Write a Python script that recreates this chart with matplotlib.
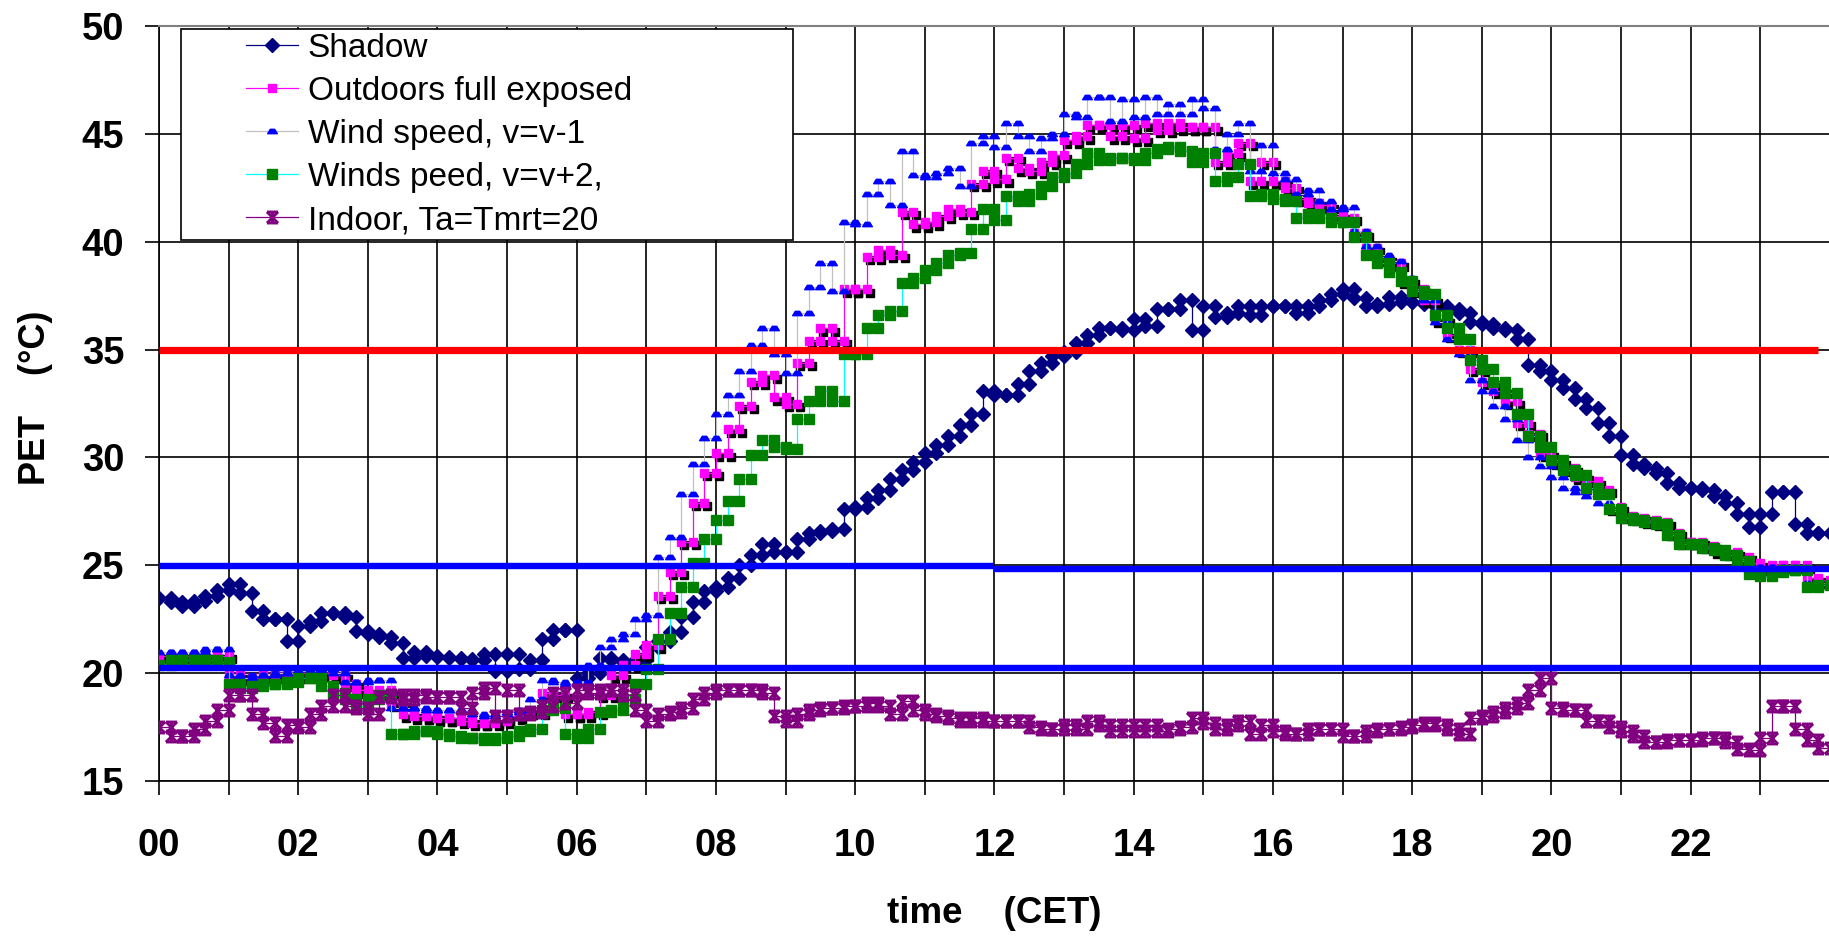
import numpy as np
import matplotlib
matplotlib.use("Agg")
import matplotlib.pyplot as plt
from matplotlib.path import Path
from matplotlib.lines import Line2D
from matplotlib.legend_handler import HandlerLine2D
from matplotlib.transforms import offset_copy
from matplotlib.ticker import MultipleLocator

plt.rcParams['font.family'] = ['Liberation Sans', 'DejaVu Sans']

# 10-minute values, one row per hour (00 .. 23)
shadow = [
    23.5, 23.3, 23.1, 23.35, 23.6, 23.85,
    24.15, 23.7, 22.9, 22.5, 22.5, 21.5,
    22.2, 22.4, 22.8, 22.8, 22.6, 21.95,
    21.8, 21.7, 21.4, 20.7, 21.0, 20.8,
    20.75, 20.7, 20.65, 20.6, 20.9, 20.1,
    20.9, 20.2, 20.6, 21.6, 22.0, 22.0,
    19.8, 20.0, 20.7, 20.6, 20.5, 20.6,
    21.2, 21.5, 21.9, 22.6, 23.3, 23.8,
    24.0, 24.4, 25.0, 25.5, 26.0, 25.6,
    25.6, 26.2, 26.5, 26.6, 26.7, 27.6,
    27.7, 28.1, 28.5, 29.0, 29.4, 29.8,
    30.2, 30.6, 31.0, 31.5, 32.0, 33.1,
    32.9, 32.9, 33.4, 34.0, 34.4, 34.7,
    34.9, 35.3, 35.7, 36.0, 36.0, 35.9,
    36.4, 36.1, 36.9, 36.9, 37.3, 35.9,
    37.0, 36.5, 36.7, 37.0, 36.6, 37.0,
    37.0, 37.0, 36.7, 37.0, 37.3, 37.6,
    37.8, 37.4, 37.0, 37.1, 37.45, 37.2,
    37.2, 37.1, 37.0, 36.9, 36.7, 36.3,
    36.2, 36.0, 35.9, 35.5, 34.3, 34.0,
    33.6, 33.2, 32.7, 32.3, 31.6, 31.0,
    30.1, 29.7, 29.5, 29.3, 28.8, 28.6,
    28.6, 28.5, 28.2, 27.9, 27.4, 26.8,
    27.4, 28.4, 28.4, 26.9, 26.5, 26.5,
]

outdoors = [
    20.8, 20.8, 20.8, 20.8, 20.8, 20.8,
    19.9, 19.8, 19.8, 19.9, 20.0, 19.9,
    20.0, 20.0, 20.0, 19.9, 19.5, 19.2,
    19.1, 19.2, 18.6, 18.1, 18.0, 18.0,
    17.9, 17.9, 17.8, 17.7, 17.7, 17.8,
    18.0, 18.2, 18.2, 19.1, 19.0, 18.1,
    18.1, 18.2, 19.0, 19.9, 20.4, 20.9,
    21.3, 23.6, 24.7, 26.1, 27.9, 29.3,
    30.2, 31.3, 32.4, 33.5, 33.8, 32.8,
    32.5, 34.4, 35.4, 36.0, 35.4, 37.8,
    37.8, 39.3, 39.6, 39.4, 41.4, 40.8,
    40.9, 41.2, 41.5, 41.4, 42.7, 43.3,
    42.9, 43.9, 43.4, 43.3, 43.7, 44.0,
    44.7, 44.9, 45.4, 45.4, 44.9, 45.4,
    44.8, 45.5, 45.2, 45.5, 45.3, 45.3,
    45.3, 43.7, 44.1, 44.6, 42.8, 43.7,
    42.8, 42.5, 42.0, 41.8, 41.7, 41.2,
    41.1, 40.4, 39.7, 39.2, 39.0, 38.2,
    37.8, 37.3, 36.4, 35.7, 35.0, 34.1,
    33.5, 33.1, 32.6, 31.6, 31.1, 30.2,
    29.8, 29.5, 29.1, 28.9, 28.5, 27.7,
    27.3, 27.2, 27.1, 27.0, 26.5, 26.1,
    26.1, 25.9, 25.7, 25.6, 25.4, 25.1,
    24.9, 25.0, 25.0, 25.0, 24.4, 24.3,
]

wind_minus1 = [
    21.0, 21.0, 21.0, 21.0, 21.1, 21.1,
    19.9, 19.8, 19.9, 19.9, 20.0, 20.0,
    20.1, 20.1, 20.2, 20.0, 19.6, 19.6,
    19.7, 19.7, 18.4, 18.4, 18.4, 18.3,
    18.3, 18.3, 18.3, 18.1, 18.0, 18.1,
    18.2, 18.3, 18.8, 19.7, 19.6, 19.5,
    19.6, 20.4, 21.2, 21.6, 21.8, 22.5,
    22.7, 25.4, 26.3, 28.3, 29.7, 30.9,
    32.0, 32.9, 34.0, 35.2, 36.0, 34.8,
    33.9, 36.7, 37.9, 39.0, 37.7, 40.9,
    40.8, 42.2, 42.8, 41.7, 44.2, 43.1,
    43.0, 43.2, 43.4, 42.6, 44.6, 44.9,
    44.4, 45.5, 44.9, 44.2, 44.8, 45.0,
    45.9, 45.8, 46.7, 46.7, 45.6, 46.6,
    45.8, 46.7, 45.9, 46.4, 45.9, 46.6,
    46.2, 44.3, 45.0, 45.5, 43.3, 44.5,
    43.2, 42.9, 42.2, 42.4, 41.9, 41.5,
    41.6, 40.5, 39.8, 39.4, 39.1, 38.3,
    37.8, 37.3, 36.3, 35.5, 34.8, 33.6,
    33.1, 32.4, 31.8, 30.8, 30.0, 29.6,
    29.1, 28.6, 28.4, 28.2, 27.9, 27.5,
    27.2, 27.1, 27.0, 26.9, 26.4, 26.0,
    26.0, 25.8, 25.7, 25.5, 25.3, 24.9,
    24.9, 24.9, 24.9, 24.9, 24.2, 24.2,
]

wind_plus2 = [
    20.4, 20.6, 20.6, 20.6, 20.6, 20.5,
    19.5, 19.3, 19.4, 19.5, 19.5, 19.6,
    19.8, 19.8, 19.4, 19.1, 18.8, 18.5,
    18.8, 19.0, 17.2, 17.2, 17.3, 17.3,
    17.2, 17.1, 17.0, 17.0, 16.9, 17.0,
    17.1, 17.3, 17.4, 18.3, 18.4, 17.2,
    17.0, 17.4, 18.2, 18.3, 18.8, 19.5,
    20.2, 21.6, 22.8, 24.0, 25.1, 26.2,
    27.1, 28.0, 29.0, 30.1, 30.8, 30.5,
    30.4, 31.8, 32.6, 33.1, 32.6, 34.8,
    34.8, 36.0, 36.6, 36.8, 38.1, 38.3,
    38.7, 39.0, 39.4, 39.5, 40.6, 41.5,
    41.0, 42.1, 41.9, 42.2, 42.6, 43.0,
    43.2, 43.6, 44.1, 43.8, 43.9, 43.9,
    43.8, 44.1, 44.3, 44.4, 44.2, 43.7,
    44.1, 42.8, 43.0, 43.6, 42.1, 42.2,
    42.0, 41.9, 41.1, 41.3, 41.1, 40.9,
    40.9, 40.2, 39.4, 39.0, 38.6, 38.2,
    37.7, 37.6, 36.6, 36.0, 35.5, 34.5,
    34.1, 33.5, 33.0, 32.0, 31.0, 30.5,
    29.9, 29.4, 29.2, 28.6, 28.3, 27.6,
    27.2, 27.1, 27.0, 26.9, 26.4, 26.0,
    26.0, 25.8, 25.7, 25.5, 25.2, 24.6,
    24.5, 24.7, 24.8, 24.8, 24.0, 24.1,
]

indoor = [
    17.5, 17.1, 17.1, 17.4, 17.8, 18.3,
    19.0, 19.0, 18.1, 17.7, 17.1, 17.6,
    17.5, 18.1, 18.5, 19.0, 18.5, 18.4,
    18.1, 18.9, 19.0, 18.8, 19.0, 18.9,
    18.9, 18.9, 18.4, 19.1, 19.3, 18.0,
    19.2, 18.1, 18.2, 18.5, 19.1, 18.6,
    19.2, 19.1, 19.2, 19.2, 19.0, 18.3,
    17.8, 18.1, 18.2, 18.4, 18.8, 19.1,
    19.2, 19.2, 19.2, 19.2, 19.1, 18.0,
    17.8, 18.1, 18.3, 18.4, 18.4, 18.5,
    18.5, 18.6, 18.5, 18.1, 18.7, 18.3,
    18.1, 18.0, 17.9, 17.8, 17.9, 17.8,
    17.8, 17.8, 17.8, 17.5, 17.4, 17.4,
    17.6, 17.4, 17.8, 17.6, 17.3, 17.6,
    17.3, 17.6, 17.3, 17.4, 17.5, 17.9,
    17.7, 17.4, 17.6, 17.8, 17.2, 17.6,
    17.3, 17.2, 17.2, 17.4, 17.4, 17.4,
    17.1, 17.1, 17.3, 17.4, 17.4, 17.5,
    17.6, 17.7, 17.6, 17.4, 17.2, 17.9,
    18.0, 18.2, 18.4, 18.6, 19.2, 19.8,
    18.4, 18.3, 18.3, 17.8, 17.8, 17.5,
    17.3, 17.1, 16.8, 16.8, 16.9, 16.9,
    16.9, 17.0, 17.0, 16.8, 16.5, 16.45,
    17.0, 18.5, 18.5, 17.4, 16.9, 16.55,
]

labels = ["Shadow", "Outdoors full exposed", "Wind speed, v=v-1",
          "Winds peed, v=v+2,", "Indoor, Ta=Tmrt=20"]

# threshold lines
red_level = 35.0
blue_upper = [24.95, 24.85]   # before / after 12h
blue_lower = 20.22

hour_ticks = np.arange(0, 24, 2)
hour_labels = ["%02d" % h for h in hour_ticks]


def steps(vals):
    # each 10 min value is held over its interval, marker at both ends
    v = np.asarray(vals, float)
    edges = np.arange(len(v) + 1) / 6.0
    return np.repeat(edges, 2)[1:-1], np.repeat(v, 2)


class ShortLine(HandlerLine2D):
    # legend sample only on the right part of the handle box
    def get_xdata(self, legend, xdescent, ydescent, width, height, fontsize):
        x0 = -xdescent + 0.54 * width
        x1 = -xdescent + width
        return np.array([x0, x1]), np.array([(x0 + x1) / 2])


# excel-like star (hourglass look) and flat triangle markers
star = Path([(-1, -1), (1, 1), (-1, 1), (1, -1), (0, -1), (0, 1),
             (-1, 1), (1, 1), (-1, -1), (1, -1)],
            [Path.MOVETO, Path.LINETO] * 5)
cap = Path([(-1, -0.45), (1, -0.45), (0.45, 0.45), (-0.45, 0.45), (-1, -0.45)],
           [Path.MOVETO, Path.LINETO, Path.LINETO, Path.LINETO, Path.CLOSEPOLY])

fig = plt.figure(figsize=(18.29, 9.40), dpi=100)
ax = fig.add_axes([0.0869, 0.1691, 0.9136, 0.8032])

x, y = steps(shadow)
ax.plot(x, y, color='#000080', lw=0.9, marker='D', ms=7.2,
        mfc='#000080', mec='#000080', zorder=3, label=labels[0])

x, y = steps(outdoors)
shade = offset_copy(ax.transData, fig=fig, x=2.2, y=-2.5, units='points')
ax.plot(x, y, ls='none', marker='s', ms=6.3, mfc='black', mec='black',
        transform=shade, zorder=3.5)
ax.plot(x, y, color='#FF00FF', lw=0.9, marker='s', ms=6.3,
        mfc='#FF00FF', mec='#FF00FF', zorder=4, label=labels[1])

x, y = steps(wind_minus1)
ax.plot(x, y, color='#C0C0C0', lw=0.9, marker=cap, ms=7.0,
        mfc='#0000FF', mec='#0000FF', zorder=5, label=labels[2])

x, y = steps(wind_plus2)
ax.plot(x, y, color='#00FFFF', lw=0.9, marker='s', ms=7.2,
        mfc='#008000', mec='#008000', zorder=6, label=labels[3])

x, y = steps(indoor)
ax.plot(x, y, color='#800080', lw=0.9, marker=star, ms=8, mew=2.0,
        mfc='none', mec='#800080', zorder=7, label=labels[4])

# comfort limits
last_t = (len(shadow) - 1) / 6.0
ax.hlines(red_level, 0, last_t, color='#FF0000', lw=5.2, zorder=8)
ax.hlines(blue_upper[0], 0, 12, color='#0000FF', lw=4.6, zorder=8)
ax.hlines(blue_upper[1], 12, 24, color='#0000FF', lw=4.6, zorder=8)
ax.hlines(blue_lower, 0, 24, color='#0000FF', lw=4.6, zorder=8)

ax.set_xlim(0, 24)
ax.set_ylim(15, 50)
ax.set_xticks(hour_ticks)
ax.set_xticklabels(hour_labels)
ax.xaxis.set_minor_locator(MultipleLocator(1))
ax.set_yticks(np.arange(15, 51, 5))

ax.set_axisbelow(True)
ax.grid(True, which='both', color='black', lw=1.2)
ax.tick_params(which='both', direction='out', length=10, width=1.2, color='black')
ax.tick_params(axis='x', labelsize=27.5, pad=24)
ax.tick_params(axis='y', labelsize=27.5, pad=15)
for t in ax.get_xticklabels() + ax.get_yticklabels():
    t.set_fontweight('bold')

ax.spines['right'].set_visible(False)
ax.spines['top'].set_color('#808080')
ax.spines['top'].set_linewidth(1.5)
ax.spines['left'].set_linewidth(1.2)
ax.spines['bottom'].set_linewidth(1.2)

ax.set_xlabel("time    (CET)", fontsize=26.5, fontweight='bold')
ax.xaxis.set_label_coords(0.5, -0.152)
ax.set_ylabel("PET    (\u00b0C)", fontsize=26, fontweight='bold')
ax.yaxis.label.set_va('center')
ax.yaxis.set_label_coords(-0.074, 0.508)

leg = ax.legend(loc='upper left', bbox_to_anchor=(0.0132, 0.7205, 0.3665, 0.2755),
                mode='expand', borderaxespad=0, fontsize=24, frameon=True,
                fancybox=False, framealpha=1, edgecolor='black',
                handlelength=3.4, handletextpad=0.28, borderpad=0.12,
                labelspacing=0.36, numpoints=1,
                handler_map={Line2D: ShortLine()})
leg.get_frame().set_linewidth(1.2)
leg.set_zorder(10)

plt.savefig('out.png', dpi=100)
plt.close()
